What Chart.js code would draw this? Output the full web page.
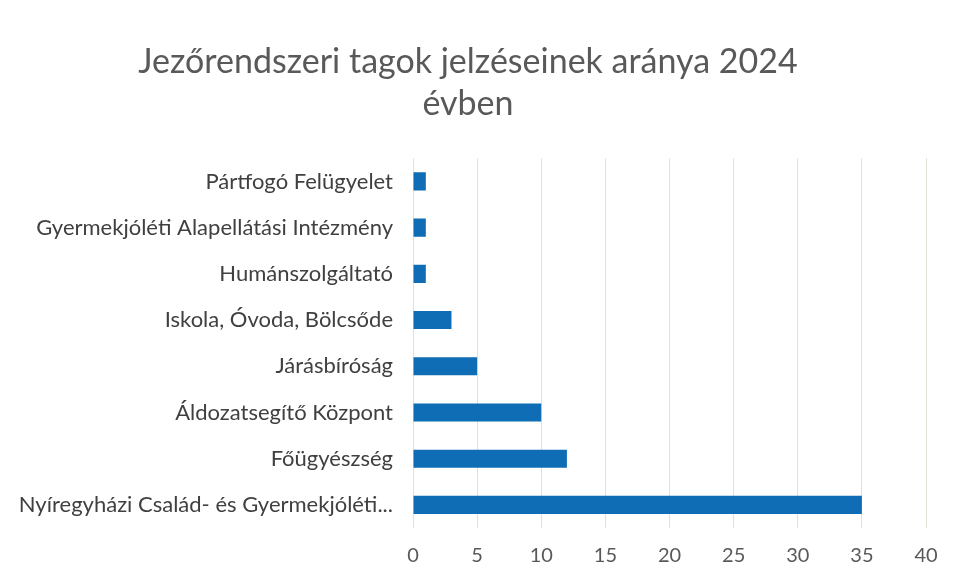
<!DOCTYPE html>
<html>
<head>
<meta charset="utf-8">
<script src="https://cdn.jsdelivr.net/npm/chart.js@4/dist/chart.umd.min.js"></script>
<style>
  html, body { margin: 0; padding: 0; background: #fff; }
  #wrap { width: 957px; height: 582px; }
</style>
</head>
<body>
<div id="wrap"><canvas id="barChart"></canvas></div>
<script>
// Adatok
const categories = [
    "Pártfogó Felügyelet",
    "Gyermekjóléti Alapellátási Intézmény",
    "Humánszolgáltató",
    "Iskola, Óvoda, Bölcsőde",
    "Járásbíróság",
    "Áldozatsegítő Központ",
    "Főügyészség",
    "Nyíregyházi Család- és Gyermekjóléti..."
];
const values = [1, 1, 1, 3, 5, 10, 12, 35];
const titleLines = ["Jezőrendszeri tagok jelzéseinek aránya 2024", "évben"];
const xMin = 0, xMax = 40, xStep = 5;

document.addEventListener("DOMContentLoaded", function () {
    const ctx = document.getElementById("barChart").getContext("2d");

    new Chart(ctx, {
        type: 'bar',
        data: {
            labels: categories,
            datasets: [{
                data: values,
                backgroundColor: '#0e6db5',
                borderWidth: 0,
                barPercentage: 0.8,
                categoryPercentage: 0.49
            }]
        },
        options: {
            indexAxis: 'y',
            responsive: true,
            maintainAspectRatio: false,
            animation: false,
            layout: { padding: { top: 41, left: 10, right: 31, bottom: 0 } },
            plugins: {
                legend: { display: false },
                tooltip: { enabled: false },
                title: {
                    display: true,
                    text: titleLines,
                    color: '#595959',
                    font: { family: 'Lato', size: 34, weight: 'normal', lineHeight: 1.24 },
                    padding: { top: 0, bottom: 33 }
                }
            },
            scales: {
                x: {
                    min: xMin,
                    max: xMax,
                    ticks: {
                        stepSize: xStep,
                        color: '#595959',
                        font: { family: 'Lato', size: 20 },
                        padding: 16
                    },
                    grid: { color: '#dfe3d5', lineWidth: 1, drawTicks: false },
                    border: { display: false },
                    afterFit: function (scale) { scale.height = 54; }
                },
                y: {
                    ticks: {
                        color: '#404040',
                        font: { family: 'Lato', size: 22 },
                        padding: 12
                    },
                    grid: { display: false },
                    border: { display: false },
                    afterFit: function (scale) { scale.width = 403; }
                }
            }
        }
    });
});
</script>
</body>
</html>
